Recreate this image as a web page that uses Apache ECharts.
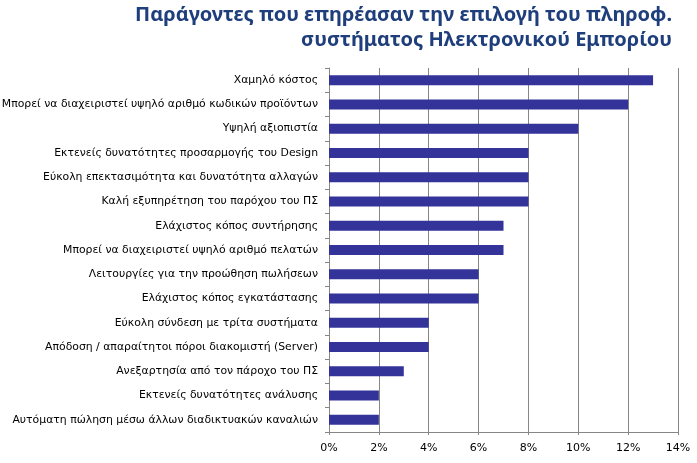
<!DOCTYPE html>
<html>
<head>
<meta charset="utf-8">
<script src="https://cdn.jsdelivr.net/npm/echarts@6/dist/echarts.min.js"></script>
<style>html,body{margin:0;padding:0;background:#fff}#c{width:697px;height:463px}</style>
</head>
<body>
<div id="c"></div>
<script>
const titleLines = ['Παράγοντες που επηρέασαν την επιλογή του πληροφ.', 'συστήματος Ηλεκτρονικού Εμπορίου'];
const categories = [
  'Χαμηλό κόστος',
  'Μπορεί να διαχειριστεί υψηλό αριθμό κωδικών προϊόντων',
  'Υψηλή αξιοπιστία',
  'Εκτενείς δυνατότητες προσαρμογής του Design',
  'Εύκολη επεκτασιμότητα και δυνατότητα αλλαγών',
  'Καλή εξυπηρέτηση του παρόχου του ΠΣ',
  'Ελάχιστος κόπος συντήρησης',
  'Μπορεί να διαχειριστεί υψηλό αριθμό πελατών',
  'Λειτουργίες για την προώθηση πωλήσεων',
  'Ελάχιστος κόπος εγκατάστασης',
  'Εύκολη σύνδεση με τρίτα συστήματα',
  'Απόδοση / απαραίτητοι πόροι διακομιστή (Server)',
  'Ανεξαρτησία από τον πάροχο του ΠΣ',
  'Εκτενείς δυνατότητες ανάλυσης',
  'Αυτόματη πώληση μέσω άλλων διαδικτυακών καναλιών'
];
const values = [13, 12, 10, 8, 8, 8, 7, 7, 6, 6, 4, 4, 3, 2, 2];
const xMin = 0, xMax = 14, xStep = 2;

const chart = echarts.init(document.getElementById('c'), null, {renderer: 'canvas'});
chart.setOption({
  animation: false,
  graphic: titleLines.map((t, i) => ({
    type: 'text',
    right: 25,
    top: 5 + i * 25,
    style: {
      text: t,
      fontFamily: 'Noto Sans',
      fontWeight: 'bold',
      fontSize: 20,
      fill: '#1F3E7C'
    }
  })),
  grid: {left: 329, right: 19, top: 68, bottom: 31, containLabel: false, outerBoundsMode: 'none'},
  xAxis: {
    type: 'value',
    min: xMin, max: xMax, interval: xStep,
    axisLine: {show: true, lineStyle: {color: '#868686', width: 1}},
    axisTick: {show: true, length: 3, lineStyle: {color: '#868686'}},
    splitLine: {show: true, lineStyle: {color: '#868686', width: 1}},
    axisLabel: {
      formatter: v => v + '%',
      fontFamily: 'DejaVu Sans', fontSize: 11, color: '#000', margin: 11
    }
  },
  yAxis: {
    type: 'category',
    data: categories,
    inverse: true,
    axisLine: {show: true, lineStyle: {color: '#868686', width: 1}},
    axisTick: {show: true, length: 4, inside: false, lineStyle: {color: '#868686'}},
    splitLine: {show: false},
    axisLabel: {fontFamily: 'DejaVu Sans', fontSize: 10.85, color: '#000', margin: 11}
  },
  series: [{
    type: 'bar',
    data: values,
    barWidth: 10,
    itemStyle: {color: '#333399'}
  }]
});
</script>
</body>
</html>
